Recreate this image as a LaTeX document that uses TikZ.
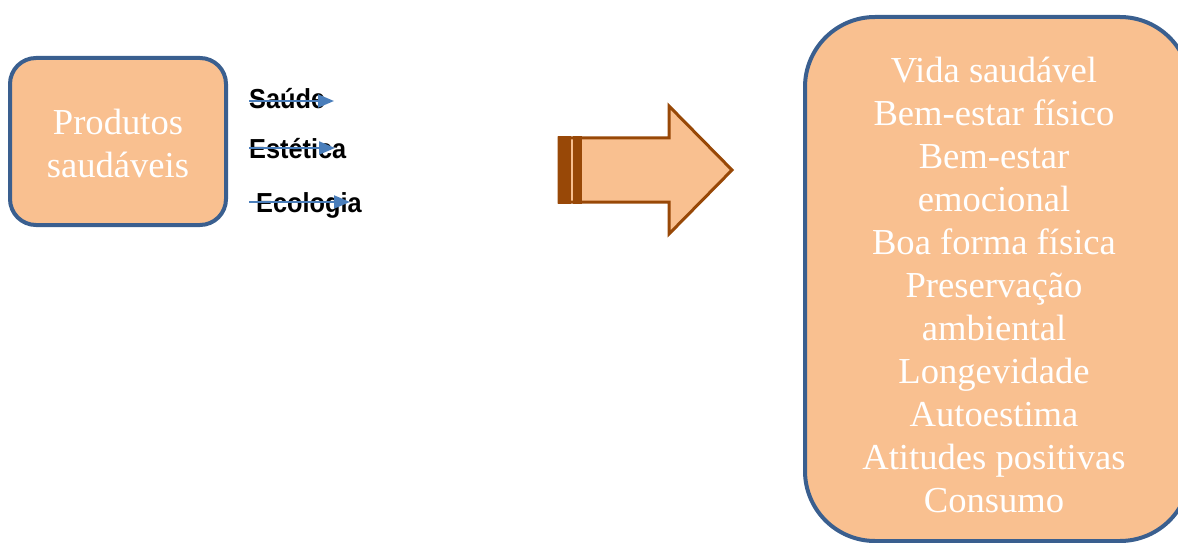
\documentclass[tikz,border=0pt]{standalone}
\usepackage{fontspec}
\setmainfont{Liberation Serif}
\newfontfamily\labelfont[FakeStretch=0.92]{Liberation Sans}
\usetikzlibrary{arrows.meta}
\definecolor{peach}{HTML}{F9C090}
\definecolor{navy}{HTML}{3A5F8F}
\definecolor{brownb}{HTML}{984807}
\definecolor{arrblue}{HTML}{4A7EBB}
\tikzset{
  roundbox/.style={draw=navy, fill=peach, line width=4pt},
  boxtext/.style={text=white, align=center, font=\fontsize{36.6}{43}\selectfont, inner sep=0pt},
  lbl/.style={font=\labelfont\bfseries\fontsize{27.5}{31}\selectfont, text=black, inner sep=0pt, anchor=base west},
  bluearrow/.style={draw=arrblue, line width=2pt, -{Triangle[length=16pt,width=13pt]}},
}
\begin{document}
\begin{tikzpicture}[x=1pt,y=1pt]
\useasboundingbox (0,0) rectangle (1178,542);
\begin{scope}
\clip (0,0) rectangle (1178,542);
% left box
\draw[roundbox, rounded corners=26pt] (10,484) rectangle (226,317);
\node[boxtext] (prod) at (118,398.5) {Produtos\\saudáveis};
% right box
\draw[roundbox, rounded corners=70pt] (805,525) rectangle (1190,1);
\node[boxtext] (list) at (994,257.5) {Vida saudável\\Bem-estar físico\\Bem-estar\\emocional\\Boa forma física\\Preservação\\ambiental\\Longevidade\\Autoestima\\Atitudes positivas\\Consumo};
\end{scope}
% labels
\node[lbl] (saude) at (249,433) {Saúde};
\node[lbl] (estetica) at (249,384) {Estética};
\node[lbl] (ecologia) at (256,330) {Ecologia};
% blue arrows
\coordinate (s1) at (249,441);
\coordinate (s2) at (334,441);
\coordinate (e1) at (249,394);
\coordinate (e2) at (335,394);
\coordinate (c1) at (249,340);
\coordinate (c2) at (350,340);
\draw[bluearrow] (s1) -- (s2);
\draw[bluearrow] (e1) -- (e2);
\draw[bluearrow] (c1) -- (c2);
% big arrow
\draw[draw=brownb, fill=peach, line width=3pt, line join=miter]
  (559,404) -- (669,404) -- (669,436) -- (732,372) -- (669,308) -- (669,340) -- (559,340) -- cycle;
\fill[brownb] (558,405.5) rectangle (571,338.5);
\fill[brownb] (573,405.5) rectangle (582,338.5);
\end{tikzpicture}
\end{document}
